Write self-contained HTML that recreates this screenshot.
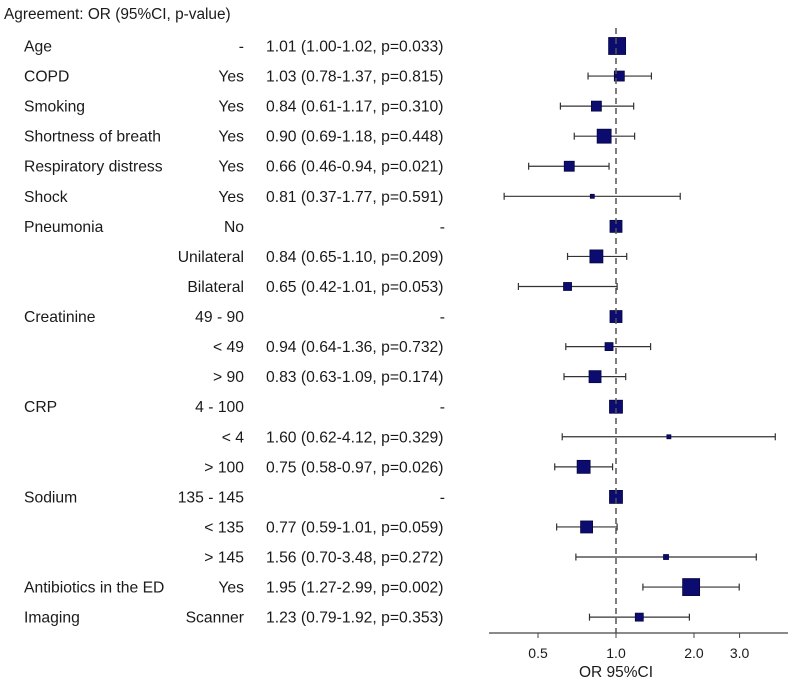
<!DOCTYPE html>
<html><head><meta charset="utf-8"><style>
body{margin:0;background:#fff;}
svg text{font-family:"Liberation Sans",Arial,sans-serif;fill:#1a1a1a;}
</style></head><body>
<svg id="chart" width="795" height="683" viewBox="0 0 795 683" xmlns="http://www.w3.org/2000/svg">
<text x="4" y="19" font-size="15.4">Agreement: OR (95%CI, p-value)</text>
<g id="rows"></g>
<g id="axis"></g>
</svg>
<script>
const variables=["Age","COPD","Smoking","Shortness of breath","Respiratory distress","Shock","Pneumonia","","","Creatinine","","","CRP","","","Sodium","","","Antibiotics in the ED","Imaging"];
const levels=["-","Yes","Yes","Yes","Yes","Yes","No","Unilateral","Bilateral","49 - 90","< 49","> 90","4 - 100","< 4","> 100","135 - 145","< 135","> 145","Yes","Scanner"];
const orValues=[1.01,1.03,0.84,0.90,0.66,0.81,1,0.84,0.65,1,0.94,0.83,1,1.60,0.75,1,0.77,1.56,1.95,1.23];
const ciLow=[1.00,0.78,0.61,0.69,0.46,0.37,null,0.65,0.42,null,0.64,0.63,null,0.62,0.58,null,0.59,0.70,1.27,0.79];
const ciHigh=[1.02,1.37,1.17,1.18,0.94,1.77,null,1.10,1.01,null,1.36,1.09,null,4.12,0.97,null,1.01,3.48,2.99,1.92];
const labels=["1.01 (1.00-1.02, p=0.033)","1.03 (0.78-1.37, p=0.815)","0.84 (0.61-1.17, p=0.310)","0.90 (0.69-1.18, p=0.448)","0.66 (0.46-0.94, p=0.021)","0.81 (0.37-1.77, p=0.591)","-","0.84 (0.65-1.10, p=0.209)","0.65 (0.42-1.01, p=0.053)","-","0.94 (0.64-1.36, p=0.732)","0.83 (0.63-1.09, p=0.174)","-","1.60 (0.62-4.12, p=0.329)","0.75 (0.58-0.97, p=0.026)","-","0.77 (0.59-1.01, p=0.059)","1.56 (0.70-3.48, p=0.272)","1.95 (1.27-2.99, p=0.002)","1.23 (0.79-1.92, p=0.353)"];
const boxSizes=[17,10,10,14,10,4,12,13,8,12,8,12,13,4,13,13,12,5,17,8];
const tickValues=[0.5,1.0,2.0,3.0];
const tickLabels=["0.5","1.0","2.0","3.0"];

const NS="http://www.w3.org/2000/svg";
const FS=15.7;
const xScale=v=>616+112.5*Math.log(v);
const yScale=i=>46+i*30.06;
function mk(tag,attrs,parent){const e=document.createElementNS(NS,tag);for(const k in attrs)e.setAttribute(k,attrs[k]);parent.appendChild(e);return e;}
const rows=document.getElementById('rows');
const axis=document.getElementById('axis');

let ref=mk('line',{x1:xScale(1),x2:xScale(1),y1:28,y2:633,stroke:'#555','stroke-width':1.5,'stroke-dasharray':'6,4'},axis);



variables.forEach((v,i)=>{
  const y=yScale(i);
  const t1=mk('text',{x:24,y:y+5.5,'font-size':FS},rows);t1.textContent=v;
  
  
  const t2=mk('text',{x:244,y:y+5.5,'font-size':FS,'text-anchor':'end'},rows);t2.textContent=levels[i];
  
  
  const t3=mk('text',{x:labels[i]==='-'?445:266,y:y+5.5,'font-size':FS,'text-anchor':labels[i]==='-'?'end':'start'},rows);t3.textContent=labels[i];
  
  
  if(ciLow[i]!==null){
    const x1=xScale(ciLow[i]),x2=xScale(ciHigh[i]);
    const l=mk('line',{x1:x1,x2:x2,y1:y,y2:y,stroke:'#333','stroke-width':1.2},rows);
    
    
    [x1,x2].forEach(x=>{const c=mk('line',{x1:x,x2:x,y1:y-3.5,y2:y+3.5,stroke:'#333','stroke-width':1.2},rows);
      
      });
  }
  const s=boxSizes[i],cx=xScale(orValues[i]);
  const b=mk('rect',{x:cx-s/2,y:y-s/2,width:s,height:s,fill:'#0c0c70',stroke:'#050540','stroke-width':0.8},rows);
  
  
});

const ax=mk('line',{x1:489,x2:788,y1:633,y2:633,stroke:'#444','stroke-width':1.3},axis);


tickValues.forEach((v,i)=>{
  const x=xScale(v);
  const tk=mk('line',{x1:x,x2:x,y1:633,y2:638,stroke:'#444','stroke-width':1},axis);
  
  
  const tl=mk('text',{x:x,y:658,'font-size':14,'text-anchor':'middle',fill:'#333'},axis);tl.textContent=tickLabels[i];
  
  
});
const at=mk('text',{x:616,y:677,'font-size':15.5,'text-anchor':'middle'},axis);at.textContent='OR 95%CI';


</script>
</body></html>
